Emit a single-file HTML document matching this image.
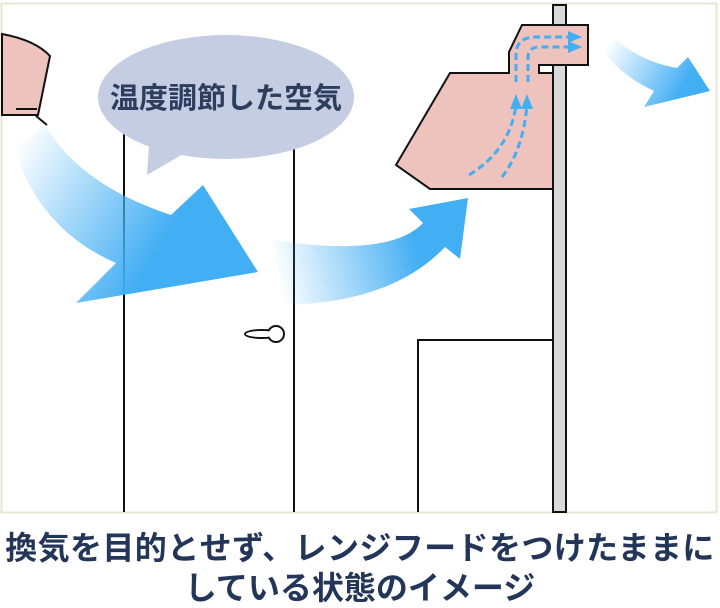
<!DOCTYPE html>
<html><head><meta charset="utf-8"><style>
html,body{margin:0;padding:0;background:#fff;width:720px;height:608px;overflow:hidden}
.cap{position:absolute;left:0;width:720px;text-align:center;font-family:"Liberation Sans","Noto Sans CJK JP",sans-serif;font-weight:bold;color:#233659;font-size:32px;line-height:40px;white-space:nowrap}
</style></head><body>
<svg width="720" height="608" style="position:absolute;left:0;top:0">
<defs>
<linearGradient id="g1" x1="20" y1="140" x2="220" y2="260" gradientUnits="userSpaceOnUse">
<stop offset="0" stop-color="#42aef3" stop-opacity="0"/><stop offset="0.75" stop-color="#42aef3"/></linearGradient>
<linearGradient id="g2" x1="275" y1="270" x2="450" y2="230" gradientUnits="userSpaceOnUse">
<stop offset="0" stop-color="#42aef3" stop-opacity="0"/><stop offset="0.8" stop-color="#42aef3"/></linearGradient>
<linearGradient id="g3" x1="610" y1="40" x2="700" y2="90" gradientUnits="userSpaceOnUse">
<stop offset="0" stop-color="#42aef3" stop-opacity="0"/><stop offset="0.85" stop-color="#42aef3"/></linearGradient>
</defs>
<rect x="1.5" y="3.5" width="715" height="509" fill="#fff" stroke="#e8e6d2" stroke-width="2"/>
<path d="M2 34 Q35 40 50 56 L38 115 L2 115 Z" fill="#efc3bd" stroke="#111" stroke-width="2"/>
<line x1="16" y1="109" x2="37" y2="109" stroke="#111" stroke-width="2"/>
<line x1="36" y1="116" x2="47" y2="125" stroke="#111" stroke-width="2"/>
<line x1="124" y1="130" x2="124" y2="512" stroke="#111" stroke-width="2"/>
<line x1="294" y1="140" x2="294" y2="512" stroke="#111" stroke-width="2"/>
<ellipse cx="262" cy="334" rx="17" ry="4" fill="#fff" stroke="#111" stroke-width="2"/>
<circle cx="276" cy="334" r="8" fill="#fff" stroke="#111" stroke-width="2"/>
<ellipse cx="262" cy="334" rx="16" ry="3" fill="#fff"/>
<path d="M418 512 L418 340 L552 340" fill="none" stroke="#111" stroke-width="2"/>
<rect x="553" y="5" width="13" height="507" fill="#d9d9d9" stroke="#111" stroke-width="2"/>
<path d="M396 165 L450 73 L509 73 L509 52 L522 25 L588 25 L588 65 L539 65 L539 73 L553 73 L553 189 L430 189 Z" fill="#efc3bd" stroke="#111" stroke-width="2"/>
<g fill="none" stroke="#42aef3" stroke-width="3" stroke-dasharray="7,4">
<path d="M516 82 L516 55 Q516 38 534 37 L572 37"/>
<path d="M528 82 L528 58 Q528 47 540 47 L572 47"/>
<path d="M469 175 Q510 150 516 105"/>
<path d="M502 177 Q523 150 527 105"/>
</g>
<g fill="#42aef3">
<polygon points="568,31 582,37 568,43"/><polygon points="568,41 582,47 568,53"/>
<polygon points="510,109 516,94 522,109"/><polygon points="521,109 527,94 533,109"/>
</g>
<path d="M15 150 Q40 230 116 263 L76 303 L258 272 L203 185 L171 215 Q80 185 45 125 Z" fill="url(#g1)"/>
<path d="M272 240 Q390 258 423 223 L409 209 L468 198 L460 259 L445 247 Q390 305 275 305 Z" fill="url(#g2)"/>
<path d="M610 35 Q640 62 677 68 L688 57 L710 91 L644 107 L654 91 Q620 75 603 50 Z" fill="url(#g3)"/>
<path d="M150 130 L147 175 L190 150 Z" fill="#c5cde2"/>
<ellipse cx="226" cy="97" rx="128" ry="62" fill="#c5cde2"/>
<text x="226" y="108" text-anchor="middle" font-family="Liberation Sans, Noto Sans CJK JP, sans-serif" font-size="29" font-weight="bold" fill="#2d3d5e">温度調節した空気</text>
</svg>
<div class="cap" style="top:528px;letter-spacing:0.4px">換気を目的とせず、レンジフードをつけたままに</div>
<div class="cap" style="top:568px">している状態のイメージ</div>
</body></html>
